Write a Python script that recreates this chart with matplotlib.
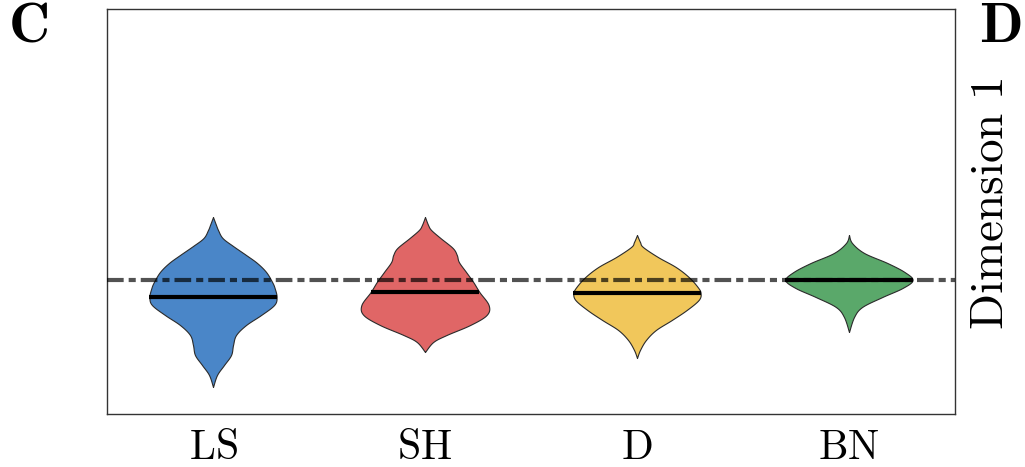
import numpy as np
import matplotlib
matplotlib.use("Agg")
import matplotlib.pyplot as plt

plt.rcParams["mathtext.fontset"] = "cm"

# groups along x
groups = ["LS", "SH", "D", "BN"]
colors = ["#4a86c8", "#e06666", "#f1c75b", "#5aa86a"]

# density profiles (value on dimension 1, relative density)
ls_y = [0.63, 0.55, 0.50, 0.42, 0.34, 0.25, 0.17, 0.08, -0.02, -0.08, -0.17, -0.25,
        -0.35, -0.45, -0.55, -0.65, -0.75, -0.85, -0.95, -1.07]
ls_d = [0, 3, 5, 9.5, 20, 33, 44, 53, 59, 61.5, 63.5, 61, 48, 33, 23, 20, 18, 11, 4, 0]

sh_y = [0.63, 0.55, 0.50, 0.42, 0.32, 0.25, 0.18, 0.08, -0.02, -0.12, -0.25, -0.35,
        -0.45, -0.55, -0.62, -0.72]
sh_d = [0, 3, 6, 15, 27, 31, 33, 40, 47, 53, 62, 60, 44, 21, 8, 0]

d_y = [0.45, 0.38, 0.33, 0.23, 0.13, 0.03, -0.07, -0.13, -0.20, -0.30, -0.40, -0.50,
       -0.60, -0.70, -0.78]
d_d = [0, 3, 6, 21, 39, 52, 61, 64, 62, 50, 35, 19, 9, 3, 0]

bn_y = [0.45, 0.37, 0.27, 0.17, 0.08, 0.00, -0.08, -0.17, -0.27, -0.37, -0.52]
bn_d = [0, 3, 15, 38, 55, 63, 53, 33, 13, 5, 0]

medians = [-0.17, -0.12, -0.13, 0.0]
reference_value = 0.0

profiles = [(ls_y, ls_d), (sh_y, sh_d), (d_y, d_d), (bn_y, bn_d)]


def smooth_outline(y, d, n=12):
    """Catmull-Rom curve through the read profile, only for a rounder outline."""
    p = np.column_stack([y, d]).astype(float)
    p = np.vstack([p[0], p, p[-1]])
    out = []
    t = np.linspace(0, 1, n, endpoint=False)[:, None]
    for k in range(1, len(p) - 2):
        p0, p1, p2, p3 = p[k - 1], p[k], p[k + 1], p[k + 2]
        seg = 0.5 * (2 * p1 + (-p0 + p2) * t + (2 * p0 - 5 * p1 + 4 * p2 - p3) * t ** 2
                     + (-p0 + 3 * p1 - 3 * p2 + p3) * t ** 3)
        out.append(seg)
    out.append(p[-2][None, :])
    out = np.vstack(out)
    return out[:, 0], np.clip(out[:, 1], 0, None)


fig = plt.figure(figsize=(10.25, 4.67), dpi=100)
ax = fig.add_axes([0.1044, 0.1135, 0.8273, 0.8672])

half_width = 0.3
for i, ((yy, dd), c, med) in enumerate(zip(profiles, colors, medians)):
    sy, sd = smooth_outline(yy, dd)
    w = sd / max(dd) * half_width
    ax.fill_betweenx(sy, i - w, i + w, facecolor=c, edgecolor="#2b2b2b",
                     linewidth=0.8, zorder=2)
    order = np.argsort(sy)
    mw = np.interp(med, sy[order], w[order])
    ax.plot([i - mw, i + mw], [med, med], color="black", lw=3,
            solid_capstyle="butt", zorder=4)

ax.axhline(reference_value, color="black", alpha=0.68, lw=3,
           linestyle=(0, (4, 1.2, 1.7, 1.2)), zorder=3)

ax.set_xlim(-0.5, 3.5)
ax.set_ylim(-1.34, 2.71)
ax.set_yticks([])
ax.set_xticks(range(len(groups)))
ax.set_xticklabels([r"$\mathrm{%s}$" % g for g in groups], fontsize=30)
ax.tick_params(axis="x", length=0, pad=9)
for s in ax.spines.values():
    s.set_color("#333333")
    s.set_linewidth(1.0)

fig.text(0.027, 0.944, r"$\mathbf{C}$", fontsize=41, ha="center", va="center")
fig.text(0.976, 0.944, r"$\mathbf{D}$", fontsize=41, ha="center", va="center")
fig.text(0.966, 0.565, r"$\mathrm{Dimension\ 1}$", fontsize=34, rotation=90,
         ha="center", va="center")

fig.savefig("out.png", dpi=100)
